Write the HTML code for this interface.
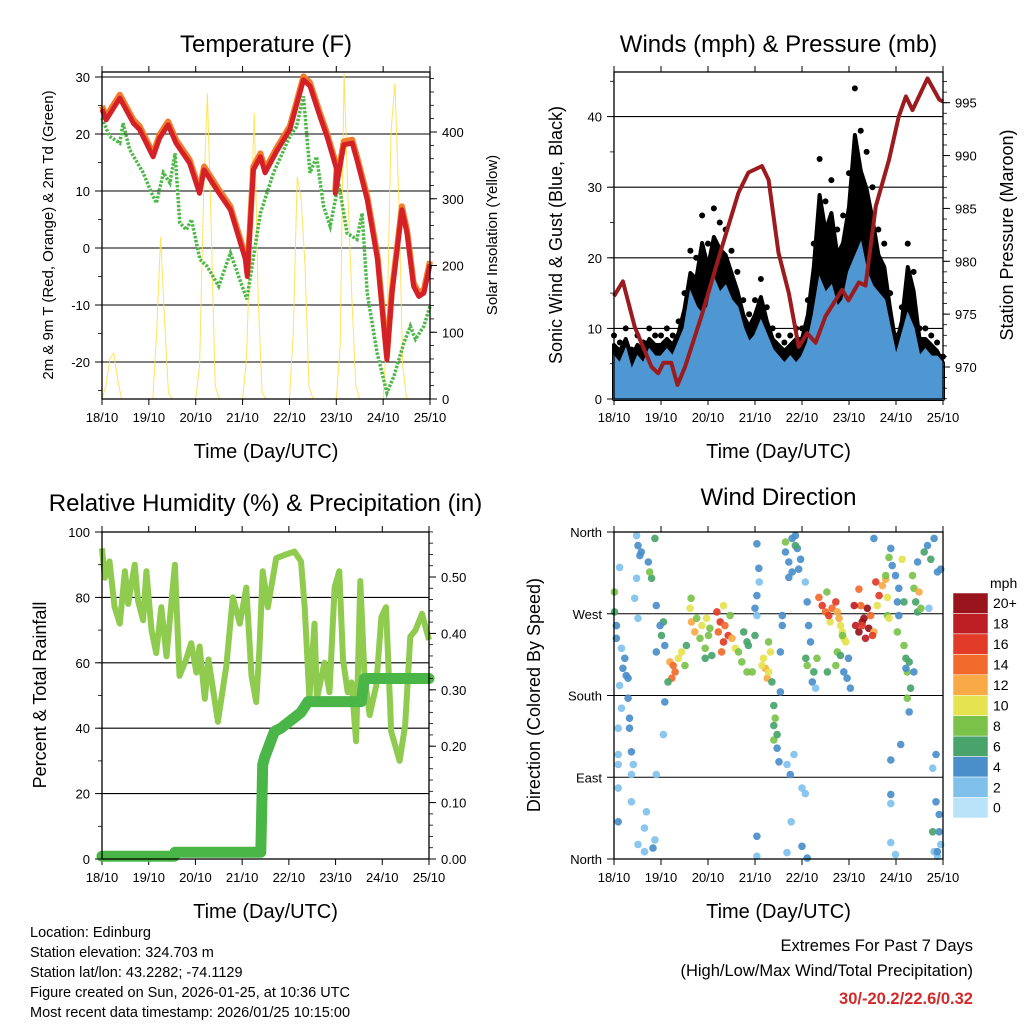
<!DOCTYPE html>
<html><head><meta charset="utf-8"><style>
html,body{margin:0;padding:0;background:#fff}
svg{display:block;font-family:"Liberation Sans",sans-serif}
</style></head><body>
<svg id="c" width="1024" height="1024" viewBox="0 0 1024 1024" xmlns="http://www.w3.org/2000/svg">
<rect width="1024" height="1024" fill="#fff"/>
<g id="layers"></g>
<g font-size="14.5" fill="#000">
<text x="30" y="937">Location: Edinburg</text>
<text x="30" y="957">Station elevation: 324.703 m</text>
<text x="30" y="977">Station lat/lon: 43.2282; -74.1129</text>
<text x="30" y="997">Figure created on Sun, 2026-01-25, at 10:36 UTC</text>
<text x="30" y="1017">Most recent data timestamp: 2026/01/25 10:15:00</text>
</g>
<g text-anchor="end">
<text x="973" y="951" font-size="16.5">Extremes For Past 7 Days</text>
<text x="973" y="976" font-size="16.5">(High/Low/Max Wind/Total Precipitation)</text>
<text x="973" y="1004" font-size="16.5" font-weight="bold" fill="#d22a2a">30/-20.2/22.6/0.32</text>
</g>
</svg>
<script>
// ---------- DATA ----------
const dayLabels = ["18/10","19/10","20/10","21/10","22/10","23/10","24/10","25/10"];
const tempT = [0,0.09,0.38,0.67,0.80,1.09,1.23,1.41,1.58,1.87,2.08,2.18,2.45,2.74,3.06,3.10,3.23,3.38,3.48,3.73,4.01,4.30,4.44,4.65,4.80,5.01,4.98,5.16,5.34,5.44,5.66,5.88,6.08,6.19,6.40,6.51,6.65,6.76,6.87,7.0];
const tempRed = [24.3,22.5,26.3,21.9,20.8,16,19.3,21.6,18.4,14.9,9.6,13.7,10.2,6.7,-2,-5,13.7,16,13.2,17,20.8,29.5,28.4,23.1,19.6,13.7,9.6,18.1,18.4,15.5,8.5,-2,-19.6,-7.9,6.7,2.6,-6.7,-8.5,-7.9,-2.9];
const tdT = [0,0.16,0.38,0.45,0.59,0.88,1.06,1.16,1.31,1.45,1.56,1.66,1.80,1.91,2.09,2.24,2.49,2.74,3.09,3.38,3.66,4.01,4.15,4.30,4.44,4.58,4.73,4.87,5.05,5.23,5.44,5.55,5.66,5.87,6.08,6.23,6.44,6.58,6.69,6.87,7.0];
const tdGreen = [22.8,19.6,18.4,21.9,17.3,13.2,9.6,7.9,13.2,11.4,16.6,4.4,3.2,5,-2,-3.2,-6.7,-0.9,-9,6.1,13.2,19.6,21.3,26.6,13.2,16,7.3,3.8,11.4,2.6,1.5,6.1,-7.9,-18.4,-25.4,-22.5,-16.7,-13.7,-16,-13.7,-10.2];
const solar = [0,20,60,69,30,0,0,0,0,0,0,0,
 0,0,100,243,120,10,0,0,0,0,0,0,
 0,50,300,458,250,20,0,0,0,0,0,0,
 0,60,250,428,150,10,0,0,0,0,0,0,
 0,100,333,300,200,20,0,0,0,0,0,0,
 0,80,488,300,150,20,0,0,0,0,0,0,
 0,100,400,473,300,50,0,0,0,0,0,0];
const windBlue = [6,5,7,4,6,5,7,6, 6,7,6,8,10,15,13,12, 13,17,15,16,14,13,10,8, 9,11,9,7,6,5,6,5, 6,8,12,17,15,16,13,14, 18,20,22,18,16,15,14,10, 6,9,12,10,6,7,6,6,5];
const windGust = [9,8,10,7,9,8,10,9, 9,10,9,11,15,21,20,26, 22,27,25,24,21,18,14,12, 14,17,13,10,9,8,9,10, 10,14,22,34,28,31,24,26, 32,44,38,35,30,24,22,15, 9,13,22,18,10,10,9,8,6];
const presT = [0,0.19,0.44,0.58,0.80,0.94,1.05,1.22,1.35,1.51,1.86,2.26,2.65,2.86,3.15,3.29,3.50,3.72,3.93,4.11,4.29,4.50,4.85,4.99,5.21,5.35,5.57,5.85,6.06,6.21,6.35,6.67,6.92,7.0];
const pressure = [976.7,978.1,973.8,972.3,970,969.4,970.4,970.4,968.3,970,974.8,980.8,986.5,988.4,989,987.7,980.8,977,971.9,973.2,972.3,974.8,977.3,976.3,978,977.7,985.2,989.6,993.7,995.6,994.3,997.3,995.3,995.1];
const rhT = [0,0.06,0.16,0.27,0.38,0.49,0.56,0.70,0.77,0.88,0.95,1.06,1.16,1.27,1.38,1.56,1.66,1.80,1.91,2.02,2.09,2.20,2.28,2.48,2.66,2.80,2.95,3.09,3.20,3.30,3.37,3.44,3.55,3.73,3.91,4.12,4.26,4.34,4.44,4.55,4.60,4.76,4.87,4.98,5.08,5.16,5.26,5.34,5.44,5.53,5.62,5.73,5.87,5.98,6.08,6.19,6.37,6.49,6.60,6.71,6.85,7.0];
const rh = [95,86,91,77,72,88,78,90,79,73,88,70,63,77,62,90,56,61,66,57,65,49,61,42,59,80,72,83,56,48,64,88,77,92,93,94,91,77,49,72,49,60,51,83,88,61,51,54,36,85,56,44,53,74,77,39,30,41,68,70,75,67];
const rainT = [0,1.55,1.56,3.40,3.44,3.48,3.69,3.83,4.26,4.41,5.55,5.62,7.0];
const rain = [0.005,0.005,0.012,0.012,0.167,0.18,0.226,0.232,0.26,0.279,0.279,0.32,0.32];
const dirT = [0.01,0.01,0.05,0.05,0.12,0.16,0.19,0.23,0.26,0.30,0.12,0.16,0.30,0.33,0.09,0.33,0.37,0.09,0.09,0.41,0.09,0.37,0.37,0.09,0.69,0.65,0.51,0.83,0.87,0.65,0.48,0.51,0.58,0.55,0.73,0.87,0.80,0.76,0.48,0.44,0.51,
0.90,1.05,1.01,1.08,0.90,0.98,1.08,1.05,0.90,
1.19,1.26,1.30,1.23,1.37,1.44,1.51,1.54,1.15,
1.62,1.65,1.72,1.76,1.83,1.87,1.94,1.97,2.04,2.08,2.01,1.94,1.64,
2.19,2.26,2.22,2.33,2.36,2.43,2.29,2.51,2.58,2.33,2.47,2.65,2.72,2.83,2.76,2.86,2.94,2.83,
3.04,3.08,3.09,3.04,3.00,3.00,3.04,3.04,3.04,
3.18,3.22,3.26,3.29,3.33,3.15,3.36,3.29,
3.40,3.43,3.40,3.40,3.47,3.47,3.51,3.54,3.54,3.58,
3.58,3.65,3.72,3.79,3.90,3.97,3.86,3.93,4.07,3.72,3.79,3.65,3.86,4.00,3.77,3.68,3.75,4.00,3.83,4.07,3.68,
4.11,4.11,4.14,4.18,4.08,4.22,4.25,4.11,4.29,
4.32,4.36,4.43,4.50,4.53,4.60,4.64,4.72,4.79,4.75,4.86,4.82,4.89,4.93,4.86,4.75,4.72,4.82,4.89,4.96,5.03,4.99,4.54,4.57,
5.14,5.21,5.28,5.32,5.39,5.42,5.35,5.25,5.28,5.46,5.53,5.50,5.11,5.21,
5.57,5.64,5.71,5.78,5.60,5.82,5.78,5.85,5.85,5.82,5.53,
5.89,5.92,5.99,6.06,6.03,6.06,6.10,5.89,5.89,5.89,5.89,5.99,6.03,
6.17,6.21,6.24,6.28,6.31,6.24,6.28,6.21,6.17,6.13,6.35,6.38,6.42,6.46,6.49,6.38,6.53,6.46,
6.60,6.67,6.74,6.81,6.88,6.95,6.70,6.85,6.78,6.85,6.92,6.92,6.88,6.81,6.78,6.95,6.88,6.63];
const dirDeg = [294,272,257,243,321,232,210,221,202,199,191,166,177,155,144,144,118,115,104,104,78,93,63,41,52,34,16,12,21,8,356,345,338,334,327,353,309,316,309,287,265,
279,261,246,235,228,257,173,137,93,
217,213,206,199,221,228,213,235,195,
276,261,250,265,243,257,232,265,254,224,246,221,287,
272,261,250,239,257,246,228,243,232,279,268,228,217,239,250,235,206,206,
347,320,305,290,276,246,268,25,3,
221,210,199,239,228,213,195,206,
169,155,147,131,137,122,107,184,228,257,
268,338,327,353,342,330,345,319,305,310,316,349,356,14,41,104,93,78,115,72,7,
1,283,257,239,221,195,206,213,188,
221,288,279,272,294,261,276,283,265,272,250,257,243,239,246,228,213,224,206,199,188,221,206,
268,257,250,261,265,276,254,243,279,257,268,250,246,279,
297,305,290,301,308,279,268,312,332,265,288,
353,342,323,312,298,283,268,126,109,71,61,18,5,
250,235,221,206,217,188,177,162,210,283,330,312,298,283,272,294,206,276,
327,338,345,330,353,316,319,276,115,100,63,49,30,3,8,30,16,8];
const dirSpd = [7,5,4,3,1,2,3,3,4,3,1,2,4,3,2,4,3,2,1,2,1,2,1,3,1,2,2,4,2,1,2,3,4,3,4,5,6,7,2,1,2,
4,5,5,3,4,4,3,2,1,
12,14,13,14,10,9,7,6,5,
10,12,11,8,8,10,7,9,8,6,7,5,8,
16,15,14,15,14,16,13,12,10,10,8,7,8,6,5,6,7,7,
3,3,2,4,4,5,2,4,2,
10,11,12,8,9,9,5,10,
6,7,6,8,5,4,3,4,4,4,
3,4,4,3,3,4,6,3,2,3,3,7,3,4,2,1,4,2,2,2,1,
3,4,4,4,5,4,6,8,1,7,
14,16,14,8,10,13,16,12,11,10,9,10,10,7,8,7,6,4,4,3,4,6,
16,18,20,20,20,20,19,18,14,16,14,12,16,17,
14,15,16,12,12,10,8,8,7,9,10,
4,3,4,3,4,3,4,4,3,4,2,2,2,
8,7,6,7,6,6,7,3,4,5,10,7,8,6,6,12,4,7,
4,5,4,5,4,4,3,2,3,2,4,4,3,2,1,5,2,4];
const speedLabels = ["20+","18","16","14","12","10","8","6","4","2","0"];
const speedColors = ["#b9e3f9","#80c1ec","#4a8fca","#48a46b","#7bc24a","#e5e34f","#f9aa47","#f26b2c","#e23b27","#bd1e24","#98131b"];

// ---------- HELPERS ----------
const NS="http://www.w3.org/2000/svg";
const root=document.getElementById('layers');
function mk(tag,attrs,parent){const e=document.createElementNS(NS,tag);for(const k in attrs)e.setAttribute(k,attrs[k]);(parent||root).appendChild(e);return e;}
function txt(s,attrs,parent){const e=mk('text',attrs,parent);e.textContent=s;return e;}
function lin(d0,d1,r0,r1){return v=>r0+(v-d0)*(r1-r0)/(d1-d0);}
function path(xs,ys,sx,sy){return xs.map((t,i)=>(i?'L':'M')+sx(t).toFixed(1)+','+sy(ys[i]).toFixed(1)).join('');}

function panel(name,x0,x1,yT,yB,title,titleY,xTitleY){
  const g=mk('g',{});
  
  
  const sx=lin(0,7,x0,x1);
  const t=txt(title,{x:(x0+x1)/2,y:titleY,'font-size':24,'text-anchor':'middle'},g);
  
  
  const xt=txt('Time (Day/UTC)',{x:(x0+x1)/2,y:xTitleY,'font-size':20,'text-anchor':'middle'},g);
  
  
  dayLabels.forEach((d,i)=>{
    const x=sx(i);
    mk('line',{x1:x,x2:x,y1:yB,y2:yB+6,stroke:'#000','stroke-width':1},g);
    mk('line',{x1:x,x2:x,y1:yT,y2:yT-6,stroke:'#000','stroke-width':1},g);
    const l=txt(d,{x:x,y:yB+23,'font-size':13,'text-anchor':'middle'},g);
    
    
  });
  return {g,sx};
}
function yAxis(g,x,side,sy,vals,labels,minors,yT,yB){
  const dir=side==='left'?-1:1;
  minors.forEach(v=>{const y=sy(v);if(y<yT-0.5||y>yB+0.5)return;mk('line',{x1:x,x2:x+dir*4,y1:y,y2:y,stroke:'#000','stroke-width':0.8},g);});
  vals.forEach((v,i)=>{
    const y=sy(v);
    mk('line',{x1:x,x2:x+dir*7,y1:y,y2:y,stroke:'#000','stroke-width':1},g);
    const l=txt(labels[i],{x:x+dir*12,y:y+5,'font-size':13,'text-anchor':side==='left'?'end':'start'},g);
    
    
  });
}
function grid(g,x0,x1,ys){ys.forEach(y=>mk('line',{x1:x0,x2:x1,y1:y,y2:y,stroke:'#000','stroke-width':1.1},g));}
function frame(g,x0,x1,yT,yB){mk('rect',{x:x0,y:yT,width:x1-x0,height:yB-yT,fill:'none',stroke:'#000','stroke-width':1.3},g);}
function vtitle(g,s,x,y,fs,name){const t=txt(s,{x:x,y:y,'font-size':fs,'text-anchor':'middle',transform:`rotate(-90 ${x} ${y})`},g);}
function range(a,b,s){const r=[];for(let v=a;v<=b+1e-9;v+=s)r.push(+v.toFixed(4));return r;}

// ---------- PANEL 1 ----------
(function(){
  const x0=102,x1=430,yT=72,yB=399;
  const {g,sx}=panel('temperature-panel',x0,x1,yT,yB,'Temperature (F)',52,458);
  const sy=lin(0,10,248,191), ss=lin(0,400,399,132);
  const tv=[-20,-10,0,10,20,30];
  grid(g,x0,x1,tv.map(sy));
  const st=mk('path',{d:path(solar.map((_,i)=>i/12),solar,sx,ss),fill:'none',stroke:'#ffe04d','stroke-width':1,opacity:0.9},g);
  
  
  const td=mk('path',{d:path(tdT,tdGreen,sx,sy),fill:'none',stroke:'#4db848','stroke-width':3.5,'stroke-dasharray':'2.5 1.5'},g);
  
  
  const o=mk('path',{d:path(tempT,tempRed.map(v=>v+0.6),sx,sy),fill:'none',stroke:'#f47b2a','stroke-width':6,'stroke-linejoin':'round'},g);
  
  
  const r=mk('path',{d:path(tempT,tempRed,sx,sy),fill:'none',stroke:'#d42027','stroke-width':5,'stroke-linejoin':'round'},g);
  
  
  frame(g,x0,x1,yT,yB);
  yAxis(g,x0,'left',sy,tv,tv.map(String),range(-25,30,5),yT,yB);
  yAxis(g,x1,'right',ss,[0,100,200,300,400],['0','100','200','300','400'],range(0,480,20),yT,yB);
  vtitle(g,'2m & 9m T (Red, Orange) & 2m Td (Green)',53,235,15,'temperature-y-axis-title');
  vtitle(g,'Solar Insolation (Yellow)',497,235,15,'solar-y-axis-title');
})();

// ---------- PANEL 2 ----------
(function(){
  const x0=614,x1=943,yT=72,yB=399;
  const {g,sx}=panel('winds-panel',x0,x1,yT,yB,'Winds (mph) & Pressure (mb)',52,458);
  const sy=lin(0,10,399,328.4), sp=lin(970,995,367,102.7);
  const wv=[0,10,20,30,40];
  grid(g,x0,x1,[10,20,30,40].map(sy));
  const bt=windGust.map((_,i)=>i/8);
  let d='M'+sx(0)+','+sy(0);
  bt.forEach((t,i)=>{d+='L'+sx(t).toFixed(1)+','+sy(windGust[i]*0.85).toFixed(1);});
  d+='L'+sx(7)+','+sy(0)+'Z';
  const gb=mk('path',{d:d,fill:'#000','stroke':'#000','stroke-width':4,'stroke-linejoin':'round'},g);
  
  
  bt.forEach((t,i)=>{
    const c=mk('circle',{cx:sx(t),cy:sy(windGust[i]),r:3,fill:'#000'},g);
    
    
  });
  let d2='M'+sx(0)+','+sy(0);
  bt.forEach((t,i)=>{d2+='L'+sx(t).toFixed(1)+','+sy(windBlue[i]).toFixed(1);});
  d2+='L'+sx(7)+','+sy(0)+'Z';
  const bb=mk('path',{d:d2,fill:'#4f97d2',stroke:'#4f97d2','stroke-width':2},g);
  
  
  const pl=mk('path',{d:path(presT,pressure,sx,sp),fill:'none',stroke:'#9b1b1f','stroke-width':4,'stroke-linejoin':'round'},g);
  
  
  frame(g,x0,x1,yT,yB);
  yAxis(g,x0,'left',sy,wv,wv.map(String),range(0,45,5),yT,yB);
  yAxis(g,x1,'right',sp,[970,975,980,985,990,995],['970','975','980','985','990','995'],range(967,998,1),yT,yB);
  vtitle(g,'Sonic Wind & Gust (Blue, Black)',562,235,18,'wind-y-axis-title');
  vtitle(g,'Station Pressure (Maroon)',1013,235,18,'pressure-y-axis-title');
})();

// ---------- PANEL 3 ----------
(function(){
  const x0=102,x1=429,yT=532,yB=859;
  const {g,sx}=panel('humidity-panel',x0,x1,yT,yB,'Relative Humidity (%) & Precipitation (in)',511,918);
  const sy=lin(0,100,859,532), sr=lin(0,0.5,859,577);
  const rv=[0,20,40,60,80,100];
  grid(g,x0,x1,[20,40,60,80].map(sy));
  const l=mk('path',{d:path(rhT,rh,sx,sy),fill:'none',stroke:'#8fcb4f','stroke-width':6,'stroke-linejoin':'round'},g);
  
  
  const p=mk('path',{d:path(rainT,rain,sx,sr),fill:'none',stroke:'#49b647','stroke-width':11,'stroke-linecap':'round','stroke-linejoin':'round'},g);
  
  
  frame(g,x0,x1,yT,yB);
  yAxis(g,x0,'left',sy,rv,rv.map(String),range(0,100,10),yT,yB);
  yAxis(g,x1,'right',sr,[0,0.1,0.2,0.3,0.4,0.5],['0.00','0.10','0.20','0.30','0.40','0.50'],range(0,0.58,0.02),yT,yB);
  vtitle(g,'Percent & Total Rainfall',46,695,18,'humidity-y-axis-title');
})();

// ---------- PANEL 4 ----------
(function(){
  const x0=614,x1=943,yT=532,yB=859;
  const {g,sx}=panel('wind-direction-panel',x0,x1,yT,yB,'Wind Direction',505,918);
  const sy=lin(0,360,859,532);
  grid(g,x0,x1,[90,180,270].map(sy));
  dirT.forEach((t,i)=>{
    if(dirDeg[i]===undefined||dirSpd[i]===undefined)return;
    const idx=Math.min(10,Math.round(dirSpd[i]/2));
    const c=mk('circle',{cx:sx(t).toFixed(1),cy:sy(dirDeg[i]).toFixed(1),r:3.8,fill:speedColors[idx],opacity:0.92},g);
    
    
  });
  frame(g,x0,x1,yT,yB);
  yAxis(g,x0,'left',sy,[0,90,180,270,360],['North','East','South','West','North'],[],yT,yB);
  vtitle(g,'Direction (Colored By Speed)',540,695,18,'direction-y-axis-title');
  const cb=mk('g',{},g);
  
  
  const h=20.45;
  txt('mph',{x:990,y:588,'font-size':14},cb);
  speedLabels.forEach((s,i)=>{
    const y=593+i*h;
    const r=mk('rect',{x:953,y:y,width:35,height:h,fill:speedColors[10-i],stroke:'#fff','stroke-width':0.5},cb);
    
    
    txt(s,{x:993,y:y+h/2+5,'font-size':14},cb);
  });
})();
</script>
</body></html>
